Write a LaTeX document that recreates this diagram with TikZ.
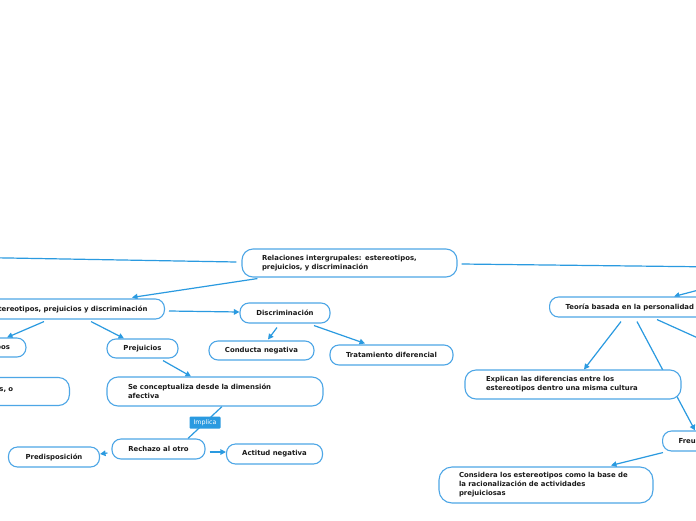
\documentclass[tikz,border=0pt]{standalone}
\usepackage{fontspec}
\setmainfont{DejaVu Sans}
\usetikzlibrary{arrows.meta,calc,backgrounds}
\definecolor{linkblue}{HTML}{2A9AE0}
\definecolor{boxblue}{HTML}{4DA6E6}
\definecolor{txt}{HTML}{1A1A1A}
\tikzset{
  x=1pt,y=-1pt,
  box/.style={draw=boxblue,line width=1.1pt,fill=white,rounded corners=9pt,
    text=txt,font=\fontsize{6.9}{9}\selectfont\bfseries,inner ysep=0pt,inner xsep=0pt},
  wide/.style={box,align=left,rounded corners=11pt},
  link/.style={draw=linkblue,line width=1.2pt},
  arr/.style={link,-{Triangle[length=5.5pt,width=5.5pt]}},
  impl/.style={fill=linkblue,text=white,rounded corners=1pt,inner sep=0pt,
    minimum width=31pt,minimum height=12pt,font=\fontsize{6.3}{7}\selectfont}
}
\begin{document}
\begin{tikzpicture}
\useasboundingbox (0,0) rectangle (696,520);
\clip (0,0) rectangle (696,520);
% nodes
\node[wide,minimum width=215pt,minimum height=28pt,text width=175pt] (main) at (349.5,263)
  {Relaciones intergrupales: estereotipos,\\prejuicios, y discriminación};
\node[box,anchor=east,minimum height=20pt,inner xsep=17pt] (epd) at (165,309)
  {Estereotipos, prejuicios y discriminación};
\node[box,minimum width=90pt,minimum height=20pt] (disc) at (285,313) {Discriminación};
\node[box,minimum width=105pt,minimum height=19pt] (cond) at (261.5,350.5) {Conducta negativa};
\node[box,minimum width=123pt,minimum height=20pt] (trat) at (391.5,355) {Tratamiento diferencial};
\node[box,anchor=east,minimum height=19pt,inner xsep=16pt] (est) at (26.5,347.5) {Estereotipos};
\node[box,anchor=east,minimum height=28pt,rounded corners=11pt,inner xsep=0pt,minimum width=150pt,
  text width=150pt,align=left] (sxo) at (70,391.5) {\hspace*{80pt}\raisebox{4.5pt}{s, o}};
\node[box,minimum width=71pt,minimum height=19pt] (prej) at (142.5,348.5) {Prejuicios};
\node[wide,minimum width=216pt,minimum height=29pt,text width=174pt] (conc) at (215,391.5)
  {Se conceptualiza desde la dimensión\\afectiva};
\node[box,minimum width=93pt,minimum height=20pt] (rech) at (158.5,449) {Rechazo al otro};
\node[box,minimum width=91pt,minimum height=20pt] (pred) at (54,457) {Predisposición};
\node[box,minimum width=96pt,minimum height=20pt] (act) at (274.5,454) {Actitud negativa};
\node[box,anchor=west,minimum height=20pt,inner xsep=16pt] (teo) at (549,307)
  {Teoría basada en la personalidad};
\node[wide,minimum width=216pt,minimum height=29pt,text width=174pt] (expl) at (573,384.5)
  {Explican las diferencias entre los\\estereotipos dentro una misma cultura};
\node[box,anchor=west,minimum height=20pt,inner xsep=16pt] (freud) at (662,441) {Freud};
\node[wide,minimum width=214pt,minimum height=36pt,text width=174pt,rounded corners=13pt] (cons) at (546,485)
  {Considera los estereotipos como la base de\\la racionalización de actividades\\prejuiciosas};
\coordinate (offL) at (-20,257.5);
\coordinate (offR) at (720,267);
\coordinate (offR2) at (760,274);
\coordinate (offR3) at (740,357);
% connectors
\begin{pgfonlayer}{background}
\clip (0,0) rectangle (696,520);
\fill[white] (0,0) rectangle (696,520);
\draw[link] ($(main.west)+(-5,-1)$) -- (offL);
\draw[arr] ($(main.south west)+(16,1)$) -- ($(epd.north east)+(-33,-1)$);
\draw[link] ($(main.east)+(4,1)$) -- (offR);
\draw[arr] (offR2) -- ($(teo.north west)+(125,0)$);
\draw[arr] ($(epd.east)+(4,2)$) -- ($(disc.west)+(0,-1)$);
\draw[arr] ($(epd.south east)+(-121,2)$) -- ($(est.north east)+(-19.5,0)$);
\draw[arr] ($(epd.south east)+(-74,2)$) -- ($(prej.north)+(-18.5,0)$);
\draw[arr] ($(prej.south)+(20.5,2)$) -- ($(conc.north)+(-24,0)$);
\draw[arr] ($(disc.south)+(-8,4)$) -- ($(cond.north)+(6.5,-1)$);
\draw[arr] ($(disc.south)+(29,2)$) -- ($(trat.north)+(-26.5,-1)$);
\draw[link] ($(conc.south)+(7,0)$) -- node[impl] (implab) {Implica} ($(rech.north)+(29.5,0)$);
\draw[arr] ($(rech.west)+(-4,4)$) -- ($(pred.east)+(0,-3)$);
\draw[arr] ($(rech.east)+(4,3)$) -- ($(act.west)+(0,-2)$);
\draw[arr] ($(teo.south west)+(72,4)$) -- ($(expl.north)+(11,0)$);
\draw[arr] ($(teo.south west)+(88,4)$) -- ($(freud.north west)+(33,0)$);
\draw[link] ($(teo.south west)+(108,2)$) -- (offR3);
\draw[arr] ($(freud.south west)+(1,1)$) -- ($(cons.north)+(65,-1)$);
\end{pgfonlayer}
\end{tikzpicture}
\end{document}
